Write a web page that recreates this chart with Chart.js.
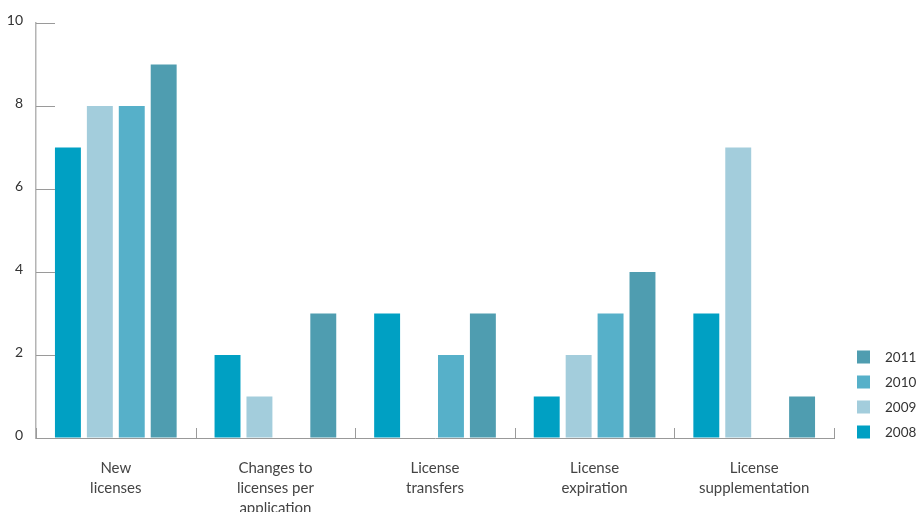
<!DOCTYPE html>
<html>
<head>
<meta charset="utf-8">
<script src="https://cdn.jsdelivr.net/npm/chart.js@4"></script>
<style>
  html, body { margin: 0; padding: 0; background: #fff; overflow: hidden; }
  #wrap { width: 924px; height: 512px; }
</style>
</head>
<body>
<div id="wrap"><canvas id="chart-licenses" width="924" height="512"></canvas></div>
<script>
// Data
const categories = [
  ['New', 'licenses'],
  ['Changes to', 'licenses per', 'application'],
  ['License', 'transfers'],
  ['License', 'expiration'],
  ['License', 'supplementation']
];
const years = ['2008', '2009', '2010', '2011'];
const values2008 = [7, 2, 3, 1, 3];
const values2009 = [8, 1, 0, 2, 7];
const values2010 = [8, 0, 2, 3, 0];
const values2011 = [9, 3, 3, 4, 1];
const yTicks = [0, 2, 4, 6, 8, 10];

const colors = ['#00a0c3', '#a3cddc', '#56b0c9', '#4f9db0'];
const FONT = 'Lato, "Open Sans", sans-serif';

// short marks drawn inward from the axes (y ticks + category separators)
const innerTicks = {
  id: 'innerTicks',
  afterDatasetsDraw(chart) {
    const { ctx, chartArea, scales } = chart;
    ctx.save();
    ctx.strokeStyle = '#9a9a9a';
    ctx.lineWidth = 1;
    scales.y.ticks.forEach(t => {
      const y = Math.round(scales.y.getPixelForValue(t.value)) + 0.5;
      ctx.beginPath();
      ctx.moveTo(chartArea.left, y);
      ctx.lineTo(chartArea.left + 19, y);
      ctx.stroke();
    });
    for (let i = 0; i <= categories.length; i++) {
      const x = Math.round(scales.x.getPixelForValue(i - 0.5)) + 0.5;
      ctx.beginPath();
      ctx.moveTo(x, chartArea.bottom);
      ctx.lineTo(x, chartArea.bottom - 10);
      ctx.stroke();
    }
    ctx.restore();
  }
};

// legend at bottom right, newest year on top
const sideLegend = {
  id: 'sideLegend',
  afterDraw(chart) {
    const { ctx, chartArea } = chart;
    const sets = chart.data.datasets;
    ctx.save();
    ctx.font = '13.5px ' + FONT;
    ctx.textBaseline = 'middle';
    ctx.textAlign = 'left';
    sets.slice().reverse().forEach((ds, k) => {
      const cy = chartArea.bottom - 6 - (sets.length - 1 - k) * 25;
      ctx.fillStyle = ds.backgroundColor;
      ctx.fillRect(chartArea.right + 23, cy - 6.5, 13, 13);
      ctx.fillStyle = '#333';
      ctx.fillText(ds.label, chartArea.right + 51, cy + 1);
    });
    ctx.restore();
  }
};

const seriesValues = [values2008, values2009, values2010, values2011];
const datasets = years.map((yr, i) => ({
  label: yr,
  data: seriesValues[i],
  backgroundColor: colors[i],
  borderWidth: 0,
  categoryPercentage: 0.8,
  barPercentage: 0.8125
}));

new Chart(document.getElementById('chart-licenses').getContext('2d'), {
  type: 'bar',
  data: { labels: categories, datasets },
  plugins: [innerTicks, sideLegend],
  options: {
    responsive: false,
    animation: false,
    layout: { padding: { top: 23, right: 90, left: 0, bottom: 0 } },
    scales: {
      x: {
        grid: { drawOnChartArea: false, drawTicks: false },
        border: { color: '#999', width: 1 },
        ticks: {
          color: '#444',
          font: { family: FONT, size: 15, lineHeight: 1.34 },
          padding: 20,
          maxRotation: 0,
          autoSkip: false
        },
        afterFit: (scale) => { scale.height = 74; }
      },
      y: {
        min: 0,
        max: 10,
        afterBuildTicks: (scale) => { scale.ticks = yTicks.map(v => ({ value: v })); },
        grid: { drawOnChartArea: false, drawTicks: false },
        border: { color: '#b4b4b4', width: 1.5 },
        ticks: {
          color: '#333',
          font: { family: FONT, size: 14 },
          padding: 13,
          labelOffset: -3
        },
        afterFit: (scale) => { scale.width = 36; }
      }
    },
    plugins: {
      legend: { display: false },
      tooltip: { enabled: false }
    }
  }
});
</script>
</body>
</html>
